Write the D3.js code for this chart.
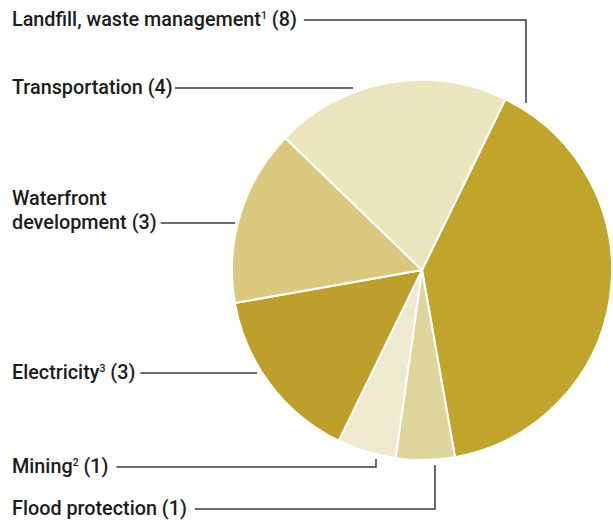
<!DOCTYPE html>
<html>
<head>
<meta charset="utf-8">
<script src="https://cdn.jsdelivr.net/npm/d3@7"></script>
<style>
  html, body { margin: 0; padding: 0; background: #ffffff; }
  svg { display: block; }
  .lbl { font-family: Roboto, "Liberation Sans", sans-serif; font-weight: 500; font-size: 19.8px; fill: #1c1c1c; }
  .leader { fill: none; stroke: #3a3a3a; stroke-width: 1.5; }
</style>
</head>
<body>
<svg id="chart" width="613" height="522"></svg>
<script>
// Project counts by sector
const categories = ["Landfill, waste management", "Flood protection", "Mining", "Electricity", "Waterfront development", "Transportation"];
const counts = [8, 1, 1, 3, 3, 4];
const footnotes = ["1", "", "2", "3", "", ""];
const colors = ["#c1a42c", "#ddd59c", "#eeeacf", "#bf9f2b", "#dac87f", "#ebe5bd"];

// Label placement: text lines, label centre line y, and leader elbow end point
const labelLines = [
  ["Landfill, waste management"],
  ["Flood protection"],
  ["Mining"],
  ["Electricity"],
  ["Waterfront", "development"],
  ["Transportation"]
];
const labelY = [20, 509, 467, 373, 223, 88];
const leaderEnd = [[526, 103], [435, 465], [376, 459], [257, 373], [235, 223], [353, 88]];
const leaderGap = [7, 8, 8, 5, 4, 2];

const svg = d3.select("#chart");
const cx = 422, cy = 270, radius = 190;
const startDeg = 26;

const pie = d3.pie()
  .sort(null)
  .value(d => d)
  .startAngle(startDeg * Math.PI / 180)
  .endAngle((startDeg + 360) * Math.PI / 180);

const arc = d3.arc().innerRadius(0).outerRadius(radius);

const g = svg.append("g").attr("transform", `translate(${cx},${cy})`);
g.selectAll("path.slice")
  .data(pie(counts))
  .join("path")
  .attr("class", "slice")
  .attr("d", arc)
  .attr("fill", (d, i) => colors[i])
  .attr("stroke", "#ffffff")
  .attr("stroke-width", 2)
  .attr("stroke-linejoin", "round");

// Labels with leader lines
const labelX = 12;
categories.forEach((cat, i) => {
  const lines = labelLines[i];
  const baseline = labelY[i] + 6;
  const text = svg.append("text").attr("class", "lbl");
  lines.forEach((ln, j) => {
    const isLast = j === lines.length - 1;
    const y = baseline - (lines.length - 1 - j) * 24;
    text.append("tspan").attr("x", labelX).attr("y", y).text(ln);
    if (isLast) {
      if (footnotes[i]) {
        text.append("tspan").attr("dy", -7).attr("font-size", 10.5).text(footnotes[i]);
        text.append("tspan").attr("dy", 7).text(` (${counts[i]})`);
      } else {
        text.append("tspan").text(` (${counts[i]})`);
      }
    }
  });
  const bb = text.node().getBBox();
  const x0 = bb.x + bb.width + leaderGap[i];
  const [ex, ey] = leaderEnd[i];
  svg.append("path")
    .attr("class", "leader")
    .attr("d", `M${x0},${labelY[i]}H${ex}V${ey}`);
});
</script>
</body>
</html>
